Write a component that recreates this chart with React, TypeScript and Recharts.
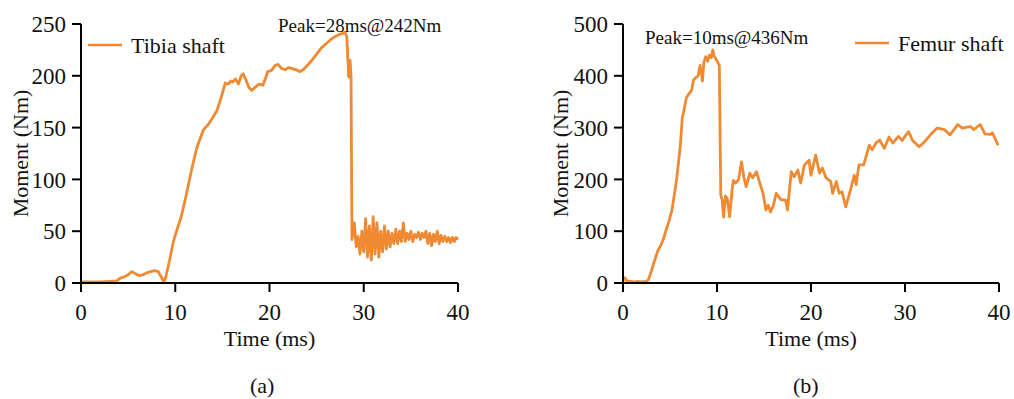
import { Label, Legend, Line, LineChart, XAxis, YAxis } from "recharts";

const FONT = '"Liberation Serif", "Times New Roman", serif';
const ORANGE = "#EF8A33";

// (a) tibia shaft, time in ms, moment in Nm
const tibiaTime = [
    0, 1, 2, 3, 3.8, 4.2, 4.6, 5.0, 5.4, 5.8, 6.2, 6.6, 7.0, 7.4, 7.8, 8.2, 8.5, 8.8, 9.0, 9.4,
    9.8, 10.2, 10.6, 11.0, 11.4, 11.8, 12.3, 12.7, 13.0, 13.5, 14.0, 14.4, 14.7, 15.0, 15.3, 15.6,
    15.9, 16.1, 16.4, 16.7, 17.0, 17.2, 17.5, 17.8, 18.1, 18.5, 18.9, 19.3, 19.6, 19.8, 20.2, 20.6,
    20.9, 21.3, 21.7, 22.0, 22.4, 22.8, 23.2, 23.6, 24.0, 24.5, 25.0, 25.5, 26.0, 26.5, 27.0, 27.4,
    27.8, 28.0, 28.2, 28.4, 28.55, 28.65, 28.75, 29.0, 29.2, 29.4, 29.6, 29.8, 30.0, 30.2, 30.4,
    30.6, 30.8, 31.0, 31.2, 31.4, 31.6, 31.8, 32.0, 32.2, 32.4, 32.6, 32.8, 33.0, 33.2, 33.4, 33.6,
    33.8, 34.0, 34.2, 34.4, 34.6, 34.8, 35.0, 35.2, 35.4, 35.6, 35.8, 36.0, 36.2, 36.4, 36.6, 36.8,
    37.0, 37.2, 37.4, 37.6, 37.8, 38.0, 38.2, 38.4, 38.6, 38.8, 39.0, 39.2, 39.4, 39.6, 39.8, 40.0,
];
const tibiaMoment = [
    1, 1, 1, 1.5, 2, 5, 6, 8, 11, 9, 7, 8, 10, 11, 12, 11, 6, 1, 6, 22,
    40, 52, 63, 78, 95, 112, 131, 141, 148, 153, 160, 166, 174, 183, 193, 192,
    195, 194, 197, 192, 200, 202, 196, 189, 186, 189, 192, 191, 198, 204, 205, 210,
    211, 207, 206, 208, 207, 206, 204, 206, 210, 215, 221, 227, 231, 235, 238, 240,
    241, 242, 238, 199, 215, 200, 42, 58, 35, 45, 28, 50, 30, 62, 25,
    55, 22, 64, 28, 58, 25, 50, 30, 55, 33, 50, 35, 48, 38, 52, 38,
    50, 40, 58, 40, 48, 42, 50, 40, 47, 44, 49, 42, 48, 44, 50, 38,
    48, 36, 47, 40, 50, 38, 46, 40, 45, 40, 44, 39, 44, 40, 44, 42,
];

// (b) femur shaft
const femurTime = [
    0, 0.2, 0.4, 0.8, 1.2, 1.6, 2.0, 2.4, 2.7, 3.0, 3.3, 3.7, 4.0, 4.3, 4.6, 4.9, 5.2, 5.5, 5.7,
    5.9, 6.1, 6.3, 6.5, 6.75, 7.0, 7.3, 7.5, 7.7, 8.0, 8.2, 8.35, 8.45, 8.6, 8.8, 9.0, 9.2, 9.4,
    9.55, 9.7, 9.9, 10.1, 10.25, 10.4, 10.55, 10.7, 10.9, 11.1, 11.35, 11.6, 11.75, 12.0, 12.3,
    12.6, 12.85, 13.1, 13.5, 13.8, 14.2, 14.5, 14.9, 15.2, 15.45, 15.7, 16.0, 16.3, 16.8, 17.3,
    17.5, 17.9, 18.2, 18.6, 18.9, 19.3, 19.8, 20.0, 20.5, 20.9, 21.2, 21.6, 22.1, 22.3, 22.7,
    23.0, 23.3, 23.7, 24.2, 24.6, 24.8, 25.1, 25.6, 26.2, 26.5, 26.9, 27.3, 27.8, 28.3, 28.7,
    29.3, 29.7, 30.0, 30.4, 30.8, 31.5, 32.0, 32.7, 33.4, 34.2, 34.8, 35.6, 36.1, 36.6, 37.0,
    37.3, 38.0, 38.5, 39.1, 39.3, 39.6, 39.9,
];
const femurMoment = [
    5, 10, 4, 3, 2, 3, 2, 3, 6, 22, 40, 62, 72, 85, 103, 120, 140, 175, 200,
    232, 265, 318, 335, 358, 365, 372, 392, 396, 400, 420, 405, 390, 425, 437, 428, 440, 435,
    450, 438, 432, 425, 420, 170, 160, 127, 168, 162, 128, 180, 198, 193, 200,
    234, 205, 186, 212, 203, 215, 196, 173, 141, 150, 137, 150, 173, 161, 160,
    141, 215, 205, 218, 193, 228, 237, 208, 247, 212, 222, 203, 196, 173, 196,
    173, 176, 147, 180, 208, 190, 228, 228, 266, 257, 270, 276, 260, 282, 270,
    283, 275, 283, 292, 275, 263, 271, 286, 299, 296, 286, 306, 299, 301, 302,
    296, 306, 288, 287, 290, 278, 266,
];

const xTicks = [0, 10, 20, 30, 40];
const tibiaTicks = [0, 50, 100, 150, 200, 250];
const femurTicks = [0, 100, 200, 300, 400, 500];

const tibiaData = tibiaTime.map((t, i) => ({ t, m: tibiaMoment[i] }));
const femurData = femurTime.map((t, i) => ({ t, m: femurMoment[i] }));

type PanelProps = {
    data: { t: number; m: number }[];
    name: string;
    yTicks: number[];
    yAxisWidth: number;
    width: number;
    marginRight: number;
    legendLeft: number;
    legendTop: number;
};

function MomentPanel({ data, name, yTicks, yAxisWidth, width, marginRight, legendLeft, legendTop }: PanelProps) {
    const tick = { fill: "#111", fontSize: 23, fontFamily: FONT };
    return (
        <LineChart
            width={width}
            height={399}
            data={data}
            margin={{ top: 24, right: marginRight, bottom: 0, left: 0 }}
        >
            <XAxis
                dataKey="t"
                type="number"
                domain={[0, 40]}
                ticks={xTicks}
                height={116}
                tick={tick}
                tickSize={9}
                tickMargin={12}
                axisLine={{ stroke: "#000", strokeWidth: 2 }}
                tickLine={{ stroke: "#000", strokeWidth: 2 }}
            >
                <Label
                    content={(p: any) => {
                        const vb = p.viewBox ?? { x: 0, y: 283, width: 377 };
                        return (
                            <text
                                x={vb.x + vb.width / 2}
                                y={346}
                                textAnchor="middle"
                                fontSize={22}
                                fontFamily={FONT}
                                fill="#111"
                            >
                                Time (ms)
                            </text>
                        );
                    }}
                />
            </XAxis>
            <YAxis
                type="number"
                domain={[yTicks[0], yTicks[yTicks.length - 1]]}
                ticks={yTicks}
                width={yAxisWidth}
                tick={tick}
                tickSize={9}
                tickMargin={6}
                axisLine={{ stroke: "#000", strokeWidth: 2 }}
                tickLine={{ stroke: "#000", strokeWidth: 2 }}
            >
                <Label
                    content={(p: any) => {
                        const vb = p.viewBox ?? { x: 0, y: 24, height: 259 };
                        const cx = vb.x + 20;
                        const cy = vb.y + vb.height / 2;
                        return (
                            <text
                                x={cx}
                                y={cy}
                                transform={`rotate(-90, ${cx}, ${cy})`}
                                textAnchor="middle"
                                dominantBaseline="central"
                                fontSize={22}
                                fontFamily={FONT}
                                fill="#111"
                            >
                                Moment (Nm)
                            </text>
                        );
                    }}
                />
            </YAxis>
            <Legend
                layout="horizontal"
                verticalAlign="middle"
                align="center"
                wrapperStyle={{ position: "absolute", left: legendLeft, top: legendTop, width: 170, height: 30 }}
                content={(p: any) => (
                    <svg width={170} height={30}>
                        <line x1={0} x2={34} y1={14} y2={14} stroke={ORANGE} strokeWidth={2.5} />
                        <text x={43} y={22} fontSize={22} fontFamily={FONT} fill="#111">
                            {p.payload?.[0]?.value ?? name}
                        </text>
                    </svg>
                )}
            />
            <Line
                type="linear"
                dataKey="m"
                name={name}
                stroke={ORANGE}
                strokeWidth={2.8}
                strokeLinejoin="round"
                dot={false}
                isAnimationActive={false}
            />
        </LineChart>
    );
}

const textStyle = { position: "absolute" as const, fontFamily: FONT, color: "#111", whiteSpace: "nowrap" as const };

export default function App() {
    return (
        <div style={{ position: "absolute", left: 0, top: 0, width: 1014, height: 399, background: "#fff" }}>
            <div style={{ position: "absolute", left: 0, top: 0 }}>
                <MomentPanel
                    data={tibiaData}
                    name="Tibia shaft"
                    yTicks={tibiaTicks}
                    yAxisWidth={81}
                    width={500}
                    marginRight={42}
                    legendLeft={88}
                    legendTop={31}
                />
            </div>
            <div style={{ position: "absolute", left: 540, top: 0 }}>
                <MomentPanel
                    data={femurData}
                    name="Femur shaft"
                    yTicks={femurTicks}
                    yAxisWidth={83}
                    width={474}
                    marginRight={15}
                    legendLeft={315}
                    legendTop={29}
                />
            </div>
            <div style={{ ...textStyle, left: 278, top: 16, fontSize: 19, lineHeight: "19px" }}>Peak=28ms@242Nm</div>
            <div style={{ ...textStyle, left: 645, top: 28, fontSize: 19, lineHeight: "19px" }}>Peak=10ms@436Nm</div>
            <div style={{ ...textStyle, left: 250, top: 375, fontSize: 22, lineHeight: "22px" }}>(a)</div>
            <div style={{ ...textStyle, left: 793, top: 375, fontSize: 22, lineHeight: "22px" }}>(b)</div>
        </div>
    );
}
